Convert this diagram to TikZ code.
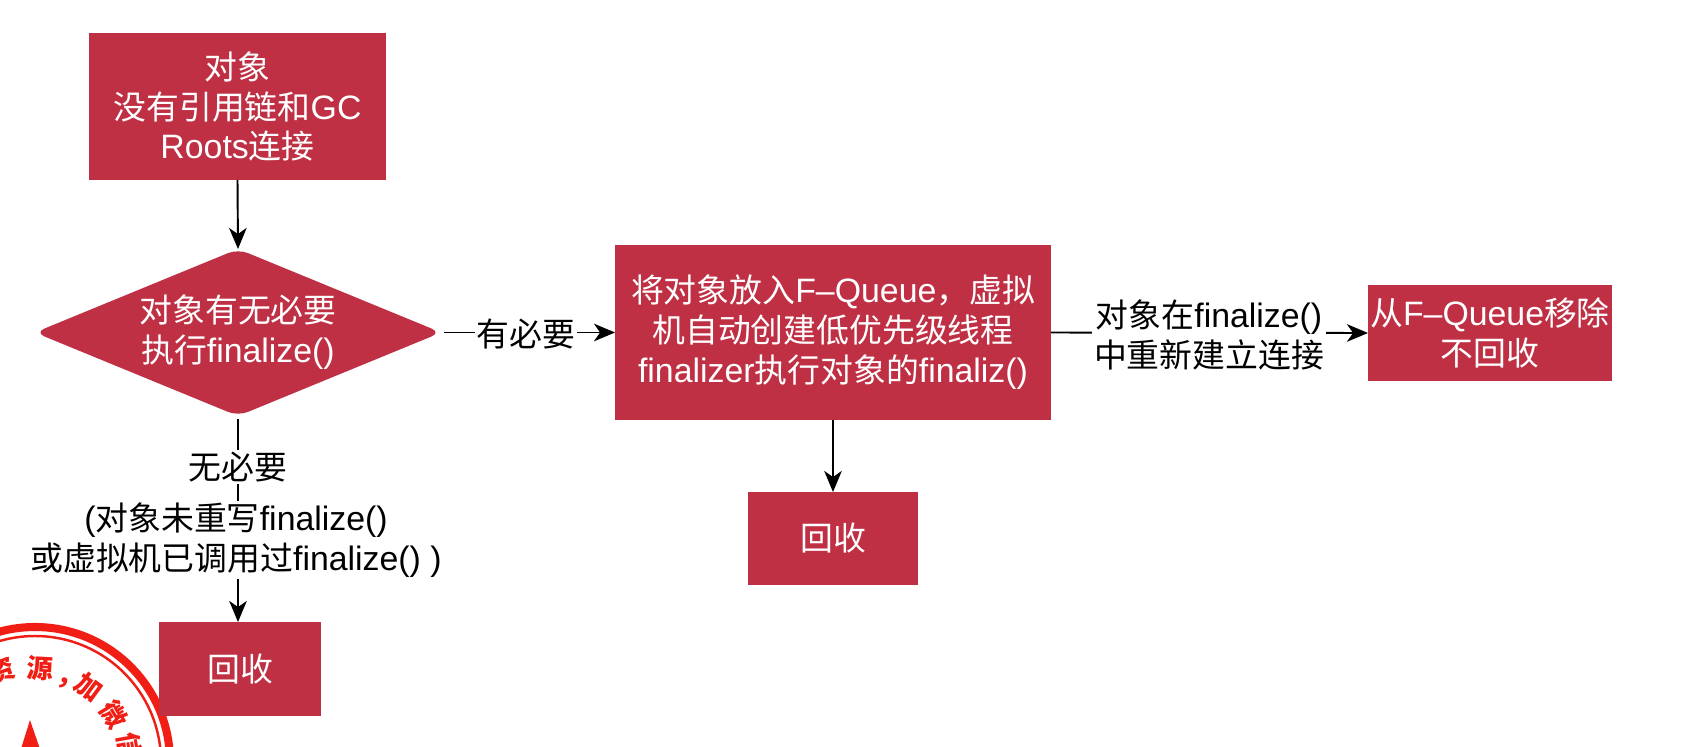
\documentclass[tikz,border=0pt]{standalone}
\usepackage{fontspec}
\setmainfont{Noto Sans CJK SC}
\newfontfamily\latfont[Scale=1.03,Ligatures=Common]{Liberation Sans}
\newcommand{\lat}[1]{{\latfont #1}}
\usetikzlibrary{shapes.geometric, arrows.meta}
\definecolor{boxred}{RGB}{191,48,68}
\definecolor{stampred}{RGB}{240,30,20}
\tikzset{
  boxnode/.style={rectangle, fill=boxred, text=white, align=center, inner sep=0pt, outer sep=0pt},
  decision/.style={diamond, fill=boxred, text=white, align=center, inner sep=0pt, outer sep=0pt, rounded corners=6pt, aspect=2.4},
  lbl/.style={fill=white, text=black, align=center, inner sep=1pt},
  conn/.style={black, line width=1.1pt},
  arr/.style={conn, -{Stealth[length=12pt, width=10pt, inset=3.5pt]}},
  stampch/.style={text=stampred, font=\fontsize{15}{15}\selectfont\bfseries, inner sep=0pt}
}

\begin{document}
\begin{tikzpicture}[x=0.02cm, y=-0.02cm, font=\fontsize{18.7}{22.7}\selectfont]
\useasboundingbox (0,0) rectangle (1687,747);

% stamp in the corner
\begin{scope}
\clip (0,0) rectangle (1687,747);
\draw[stampred, line width=4.6pt] (35,762) circle (135);
\draw[stampred, line width=1.4pt] (35,762) circle (126);
\fill[stampred] (30,720) -- (20,752) -- (41,752) -- cycle;
\foreach \ch/\ang/\rr/\nm in {资/-20/97/sa, 源/3/94/sb, {,}/20/84/sc, 加/36/92/sd, 微/59/92/se, 信/80/96/sf} {
  \node[stampch, rotate=-\ang] (\nm) at ({35+\rr*sin(\ang)}, {762-\rr*cos(\ang)}) {\ch};
}
\end{scope}

% boxes
\node[boxnode, minimum width=5.94cm, minimum height=2.94cm] (obj) at (237.5,106.5) {对象\\没有引用链和\lat{GC}\\\lat{Roots}连接};
\node[decision, minimum width=8.13cm, minimum height=3.34cm] (need) at (238,332.5) {对象有无必要\\执行\lat{finalize()}};
\node[boxnode, minimum width=3.24cm, minimum height=1.88cm] (gcleft) at (240,669) {回收};
\node[boxnode, minimum width=8.72cm, minimum height=3.5cm] (queue) at (833,332.5) {将对象放入\lat{F–Queue}，虚拟\\机自动创建低优先级线程\\\lat{finalizer}执行对象的\lat{finaliz()}};
\node[boxnode, minimum width=3.4cm, minimum height=1.86cm] (gcmid) at (833,538.5) {回收};
\node[boxnode, minimum width=4.88cm, minimum height=1.92cm] (keep) at (1490,333) {从\lat{F–Queue}移除\\不回收};

% connectors
\draw[arr] (obj.south) -- (need.north);
\draw[arr, shorten <=1.5pt] (need.south) -- (gcleft.north -| need.south);
\draw[arr, shorten <=1.5pt] (need.east) -- (queue.west);
\draw[arr] (queue.south -| gcmid.north) -- (gcmid.north);
\draw[arr] (queue.east) -- (keep.west);

% labels on the connectors
\node[lbl] (nolbl) at (238,467) {无必要};
\node[lbl] (whylbl) at (236,540) {\lat{(}对象未重写\lat{finalize()}\\或虚拟机已调用过\lat{finalize() )}};
\node[lbl] (yeslbl) at (526,334) {有必要};
\node[lbl] (backlbl) at (1209,335) {对象在\lat{finalize()}\\中重新建立连接};
\end{tikzpicture}
\end{document}
